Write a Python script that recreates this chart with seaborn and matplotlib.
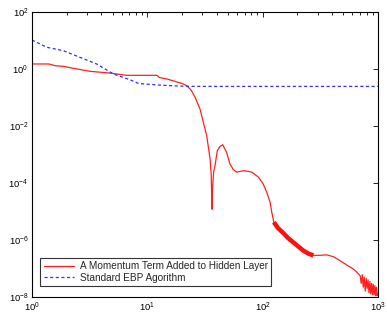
import numpy as np
import pandas as pd
import matplotlib
matplotlib.use("Agg")
import matplotlib.pyplot as plt
from matplotlib.ticker import LogLocator, NullLocator, NullFormatter, LogFormatterMathtext
import seaborn as sns

# Red series: momentum term added to hidden layer
red_x = [1, 1.4, 1.6, 1.87, 2.28, 3.18, 4.74, 6.6, 9.0, 12.1, 12.8, 15, 17.3, 20, 22, 24, 26, 28.6,
         32.7, 35.0, 35.8, 36.3, 36.7, 37.6, 38.6, 40.4, 42.5, 45, 48.6, 52, 55.5, 59.5, 65, 70,
         80.6, 92, 101, 108.5, 116, 120, 125, 136, 150, 165, 184, 205, 226, 250, 275, 310, 359,
         410, 467, 540, 610, 655, 700, 715, 730, 745, 760, 775, 790, 805, 820, 835, 850, 865,
         880, 895, 910, 925, 940, 955, 970, 985, 1000]
red_y = [1.5, 1.5, 1.3, 1.24, 1.06, 0.83, 0.72, 0.6, 0.6, 0.6, 0.5, 0.44, 0.37, 0.31, 0.26, 0.18,
         0.1, 0.04, 4.6e-3, 7e-4, 2e-4, 1.2e-5, 6e-5, 2.5e-4, 4e-4, 1.35e-3, 1.9e-3, 2.2e-3,
         1.2e-3, 4.7e-4, 3e-4, 2.4e-4, 2.6e-4, 2.7e-4, 2.4e-4, 1.6e-4, 9.3e-5, 4.7e-5, 2.1e-5,
         9.3e-6, 4.2e-6, 2.6e-6, 1.8e-6, 1.2e-6, 8.3e-7, 5.8e-7, 4.2e-7, 3.3e-7, 2.9e-7, 2.9e-7,
         3.0e-7, 2.6e-7, 1.9e-7, 1.3e-7, 9.6e-8, 7.5e-8, 5.6e-8, 3e-8, 6e-8, 2.2e-8, 5e-8, 1.6e-8,
         4.5e-8, 2e-8, 4e-8, 1.4e-8, 3.5e-8, 1.3e-8, 3e-8, 1.2e-8, 2.8e-8, 1.2e-8, 2.5e-8,
         1.1e-8, 2.2e-8, 1.1e-8, 1.3e-8]

# Blue series: standard EBP
blue_x = [1, 1.34, 1.87, 2.6, 3.64, 5.07, 7.07, 8.4, 12.4, 16, 22, 40, 100, 1000]
blue_y = [10.4, 5.8, 4.4, 2.57, 1.5, 0.67, 0.42, 0.31, 0.275, 0.26, 0.247, 0.245, 0.245, 0.245]

labels = ["A Momentum Term Added to Hidden Layer", "Standard EBP Agorithm"]

sns.set_style("white")
plt.rcParams['font.family'] = ['Liberation Sans', 'DejaVu Sans']
plt.rcParams['mathtext.fontset'] = 'custom'
plt.rcParams['mathtext.rm'] = 'Liberation Sans'
plt.rcParams['mathtext.it'] = 'Liberation Sans'

fig = plt.figure(figsize=(3.87, 3.25), dpi=100)
ax = fig.add_axes([32/387, 1-297/325, (378-32)/387, (297-12)/325])

df_r = pd.DataFrame({"x": red_x, "y": red_y})
df_b = pd.DataFrame({"x": blue_x, "y": blue_y})

sns.lineplot(data=df_r, x="x", y="y", sort=False, ax=ax, color="#ff2020", lw=0.9, label=labels[0])
sns.lineplot(data=df_b, x="x", y="y", sort=False, ax=ax, color="#3030ff", lw=0.9,
             linestyle=(0, (2.5, 2)), label=labels[1])
# thick oscillating band region
band = df_r[(df_r.x >= 125) & (df_r.x <= 300)]
ax.plot(band.x, band.y, color="#ff1010", lw=3.2, solid_capstyle="butt")

ax.set_xscale("log")
ax.set_yscale("log")
ax.set_xlim(1, 1000)
ax.set_ylim(1e-8, 1e2)
ax.set_xlabel("")
ax.set_ylabel("")
ax.xaxis.label.set_visible(False)
ax.yaxis.label.set_visible(False)

ax.xaxis.set_major_locator(LogLocator(base=10, numticks=10))
ax.xaxis.set_minor_locator(LogLocator(base=10, subs=np.arange(2, 10), numticks=20))
ax.xaxis.set_minor_formatter(NullFormatter())
ax.yaxis.set_major_locator(LogLocator(base=100, numticks=10))
ax.yaxis.set_minor_locator(NullLocator())
ax.xaxis.set_major_formatter(LogFormatterMathtext())
ax.yaxis.set_major_formatter(LogFormatterMathtext())

ax.tick_params(which="both", direction="in", top=True, right=True, color="black",
               labelsize=6.8, width=0.6, colors="black")
ax.tick_params(which="major", length=3.5, pad=2.5)
ax.tick_params(axis="x", which="major", pad=2.5)
ax.tick_params(which="minor", length=2)
for s in ax.spines.values():
    s.set_color("black")
    s.set_linewidth(0.8)

leg = ax.legend(loc="lower left", fontsize=7.2, frameon=True, fancybox=False,
                edgecolor="black", borderpad=0.35, handlelength=3.0, labelspacing=0.15,
                handletextpad=0.6, bbox_to_anchor=(0.01, 0.02))
leg.get_frame().set_linewidth(0.8)

fig.savefig("out.png", dpi=100, facecolor="white")
